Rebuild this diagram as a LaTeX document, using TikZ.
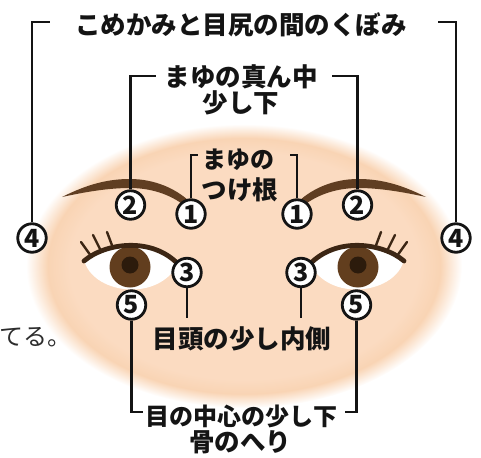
\documentclass[tikz,border=0pt]{standalone}
\usepackage{fontspec}
\usepackage{tikz}
\usetikzlibrary{calc}
\newfontfamily\jpfont{Noto Sans CJK JP}
\definecolor{skin}{RGB}{251,219,193}
\definecolor{skinedge}{RGB}{249,212,180}
\definecolor{browcol}{RGB}{96,62,34}
\definecolor{lidcol}{RGB}{60,38,20}
\definecolor{iriscol}{RGB}{98,62,30}
\definecolor{pupilcol}{RGB}{44,27,12}
\definecolor{ink}{RGB}{20,20,20}
\pgfdeclareradialshading{faceglow}{\pgfpointorigin}{color(0bp)=(skin);
  color(20bp)=(skin); color(22.5bp)=(skinedge); color(25bp)=(white);
  color(50bp)=(white)}
\newcommand{\eyeshape}{(85,263) .. controls (104,245) and (152,239) .. (178,264)
  .. controls (158,302) and (96,294) .. (85,263) -- cycle}
\tikzset{
  numc/.style={circle,draw=ink,fill=white,line width=2.8pt,minimum size=28.5pt,
    inner sep=0pt,text=ink,font=\jpfont\bfseries\fontsize{25}{25}\selectfont},
  leader/.style={draw=ink,line width=2.1pt},
  lbl/.style={inner sep=0pt,text=ink,
    font=\jpfont\bfseries\fontsize{25.5}{25.5}\selectfont},
  small lbl/.style={lbl,font=\jpfont\bfseries\fontsize{24}{24}\selectfont},
  tailtext/.style={inner sep=0pt,text=ink!90,anchor=west,
    font=\jpfont\fontsize{24}{24}\selectfont},
  brow/.style={fill=browcol},
  lid/.style={draw=lidcol,line width=4.8pt,line cap=round},
  lash/.style={draw=lidcol,line width=2.4pt,line cap=round},
}

\begin{document}
\begin{tikzpicture}[x=1pt,y=-1pt]
  \useasboundingbox (0,0) rectangle (481,457);
  \shade[shading=faceglow] (244,266) ellipse [x radius=218,y radius=142];

  \foreach \flip/\side in {1/l,-1/r} {
    \begin{scope}[xshift={(1-(\flip))*244pt},xscale=\flip]
      \fill[brow] (62,197) .. controls (88,184) and (108,179) .. (130,179)
        .. controls (155,179) and (176,189) .. (189,201) -- (185,206)
        .. controls (170,194) and (150,188) .. (130,188)
        .. controls (108,188) and (85,192) .. (62,197) -- cycle;
      \fill[white] \eyeshape;
      \begin{scope}
        \clip \eyeshape;
        \fill[iriscol] (130,267) circle[radius=20.5];
        \fill[pupilcol] (130,265) circle[radius=8.5];
      \end{scope}
      \draw[lid] (84,261) .. controls (105,243) and (152,236) .. (179,265);
      \draw[lash] (91,256) -- (81,242);
      \draw[lash] (101,251) -- (93,235);
      \draw[lash] (113,248) -- (107,232);

      \node[numc] (c4\side) at (32,238) {4};
      \node[numc] (c2\side) at (130.5,205) {2};
      \node[numc] (c1\side) at (191,214) {1};
      \node[numc] (c3\side) at (187,272.5) {3};
      \node[numc] (c5\side) at (131.5,305) {5};
      \coordinate (e4\side) at (50,22);
      \coordinate (e2\side) at (156,76);
      \coordinate (e1\side) at (198,155);
      \coordinate (e3\side) at (187,318);
      \coordinate (e5\side) at (143,412);
      \draw[leader] (c4\side) |- (e4\side);
      \draw[leader] (c2\side) |- (e2\side);
      \draw[leader] (c1\side) |- (e1\side);
      \draw[leader] (c3\side) -- (e3\side);
      \draw[leader] (c5\side) |- (e5\side);
    \end{scope}
  }

  \node[lbl] (temple) at (241,25) {こめかみと目尻の間のくぼみ};
  \node[lbl] (midA) at (241,77) {まゆの真ん中};
  \node[lbl] (midB) at (241,102.5) {少し下};
  \node[small lbl] (rootA) at (238,160) {まゆの};
  \node[lbl] (rootB) at (240,189.5) {つけ根};
  \node[lbl] (inner) at (242,339) {目頭の少し内側};
  \node[small lbl] (belowA) at (241,416) {目の中心の少し下};
  \node[lbl] (belowB) at (240,442) {骨のへり};
  \node[tailtext] (tail) at (-1,337) {てる。};
\end{tikzpicture}
\end{document}
